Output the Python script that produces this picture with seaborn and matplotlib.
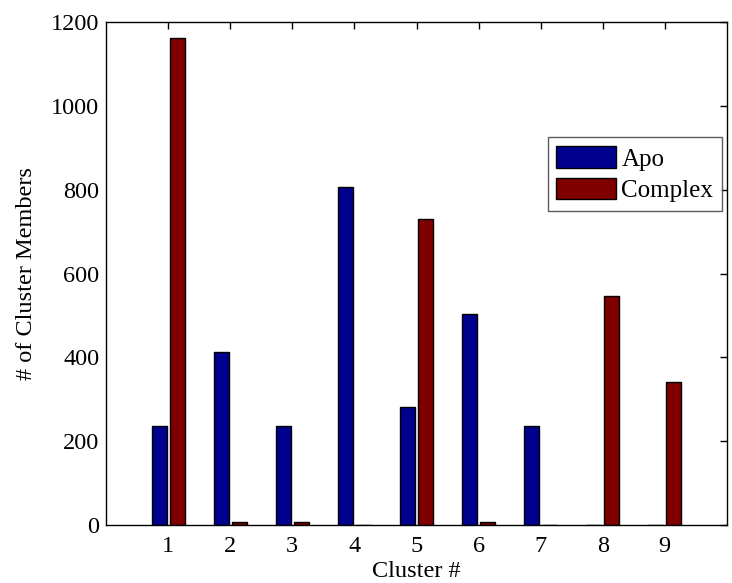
import matplotlib
matplotlib.use("Agg")
import matplotlib.pyplot as plt
import seaborn as sns
import pandas as pd

clusters = ["1", "2", "3", "4", "5", "6", "7", "8", "9"]
apo = [236, 412, 236, 806, 282, 504, 236, 0, 0]
complex_ = [1163, 7, 7, 0, 730, 7, 0, 547, 341]
series_names = ["Apo", "Complex"]
colors = ["#00008F", "#800000"]

df = pd.DataFrame({
    "Cluster": clusters * 2,
    "Type": [series_names[0]] * len(clusters) + [series_names[1]] * len(clusters),
    "Count": apo + complex_,
})

sns.set_style("white")
plt.rcParams["font.family"] = ["Liberation Serif", "DejaVu Serif"]
plt.rcParams["text.color"] = "black"
plt.rcParams["axes.labelcolor"] = "black"
plt.rcParams["xtick.color"] = "black"
plt.rcParams["ytick.color"] = "black"

fig = plt.figure(figsize=(7.32, 5.83), dpi=100)
ax = fig.add_axes([0.145, 0.0995, 0.848, 0.8625])

sns.barplot(data=df, x="Cluster", y="Count", hue="Type", palette=colors,
            width=0.58, gap=0.15, edgecolor="black", linewidth=1.0,
            saturation=1, ax=ax, legend=True)

ax.set_xlim(-1, 9)
ax.set_ylim(0, 1200)
ax.set_yticks([0, 200, 400, 600, 800, 1000, 1200])
ax.tick_params(direction="in", top=True, right=True, length=5, width=1,
               labelsize=17.5, color="black", labelcolor="black")
ax.tick_params(axis="x", pad=8)
ax.tick_params(axis="y", pad=5)
ax.set_xlabel("Cluster #", fontsize=17.5, labelpad=3, color="black")
ax.set_ylabel("# of Cluster Members", fontsize=17.5, labelpad=10, color="black")
for s in ax.spines.values():
    s.set_color("black")
    s.set_linewidth(1.0)

leg = ax.legend(loc="upper right", bbox_to_anchor=(0.992, 0.771), borderaxespad=0,
                fontsize=18, frameon=True, fancybox=False, edgecolor="#333333",
                handlelength=2.4, handleheight=0.96, labelspacing=0.28,
                handletextpad=0.2, borderpad=0.35)
leg.get_frame().set_linewidth(1.0)
for t in leg.get_texts():
    t.set_color("black")

fig.savefig("out.png", dpi=100)
